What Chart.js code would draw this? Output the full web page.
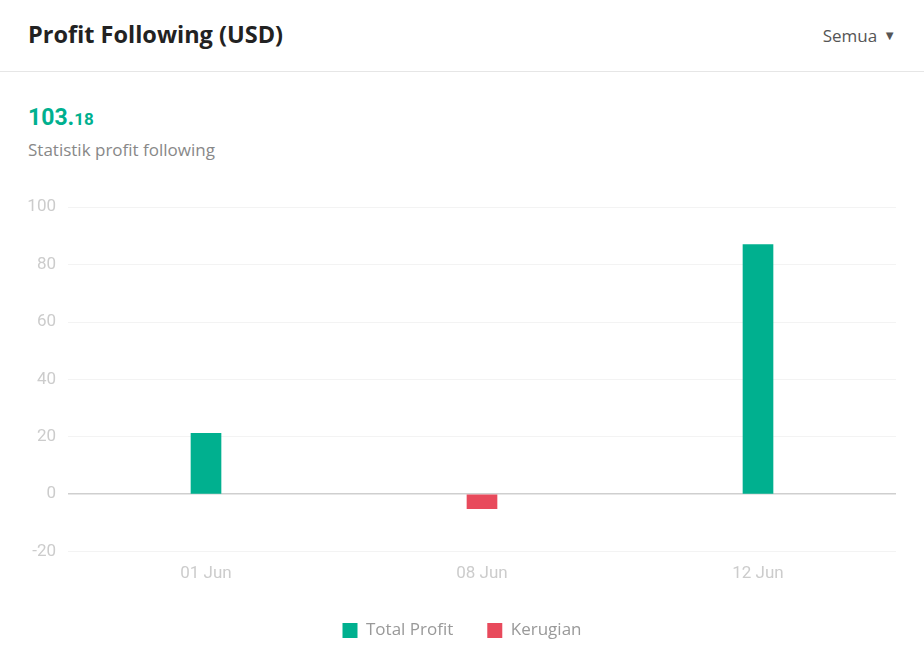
<!DOCTYPE html>
<html>
<head>
<meta charset="utf-8">
<script src="https://cdn.jsdelivr.net/npm/chart.js@4"></script>
<style>
    body { margin: 0; background: #fff; font-family: "Open Sans", "Noto Sans", sans-serif; }
    .wrap { position: relative; width: 924px; height: 668px; overflow: hidden; }
    .head { position: absolute; left: 0; top: 0; width: 924px; height: 71px; border-bottom: 1px solid #e6e6e6; }
    .title { position: absolute; left: 28px; top: 18px; font-size: 23.5px; font-weight: 700; color: #222; }
    .filter { position: absolute; right: 28px; top: 24px; font-size: 17px; color: #555; }
    .filter span { font-size: 13px; margin-left: 6px; position: relative; top: -2px; }
    .total { position: absolute; left: 28px; top: 104px; font-size: 23px; font-weight: 700; color: #00b08f; font-family: Roboto, sans-serif; }
    .total small { font-size: 17px; }
    .sub { position: absolute; left: 28px; top: 138px; font-size: 17px; color: #888; }
    .chartBox { position: absolute; left: 0; top: 185px; width: 924px; height: 464px; }
</style>
</head>
<body>
<div class="wrap">
    <div class="head">
        <div class="title">Profit Following (USD)</div>
        <div class="filter">Semua<span>&#9660;</span></div>
    </div>
    <div class="total">103.<small>18</small></div>
    <div class="sub">Statistik profit following</div>
    <div class="chartBox"><canvas id="profitChart"></canvas></div>
</div>
<script>
let labels = ['01 Jun', '08 Jun', '12 Jun'];
let totalProfit = [21.2, null, 87.0];
let kerugian = [null, -5.0, null];
let yTicks = { min: -20, max: 100, step: 20 };

let ctx = document.querySelector('#profitChart');
var profitChart = new Chart(ctx, {
    type: 'bar',
    data: {
        labels: labels,
        datasets: [
            { label: 'Total Profit', data: totalProfit, backgroundColor: '#00b08f', barThickness: 30 },
            { label: 'Kerugian', data: kerugian, backgroundColor: '#e84a5c', barThickness: 30 }
        ]
    },
    options: {
        responsive: true,
        maintainAspectRatio: false,
        animation: false,
        layout: { padding: { top: 3, right: 0, bottom: 0, left: 0 } },
        plugins: {
            tooltip: { enabled: false },
            legend: {
                position: 'bottom',
                labels: {
                    boxWidth: 15,
                    boxHeight: 15,
                    padding: 34,
                    color: '#999',
                    font: { family: 'Open Sans', size: 17 }
                }
            }
        },
        scales: {
            x: {
                stacked: true,
                grid: { display: false },
                border: { display: false },
                ticks: { color: '#ccc', padding: 4, font: { family: 'Roboto', size: 17 } }
            },
            y: {
                stacked: true,
                min: yTicks.min,
                max: yTicks.max,
                afterFit: s => { s.width = 68; },
                border: { display: false },
                grid: {
                    drawTicks: false,
                    color: c => c.tick && c.tick.value === 0 ? '#cfcfcf' : '#f3f3f3',
                    lineWidth: c => c.tick && c.tick.value === 0 ? 1.5 : 1
                },
                ticks: { stepSize: yTicks.step, color: '#ccc', padding: 12, font: { family: 'Roboto', size: 17 } }
            },
            // empty right axis, only keeps the right margin so the legend stays centred on the page
            yr: {
                position: 'right',
                min: yTicks.min,
                max: yTicks.max,
                afterFit: s => { s.width = 28; },
                border: { display: false },
                grid: { display: false },
                ticks: { display: false }
            }
        }
    }
});
</script>
</body>
</html>
